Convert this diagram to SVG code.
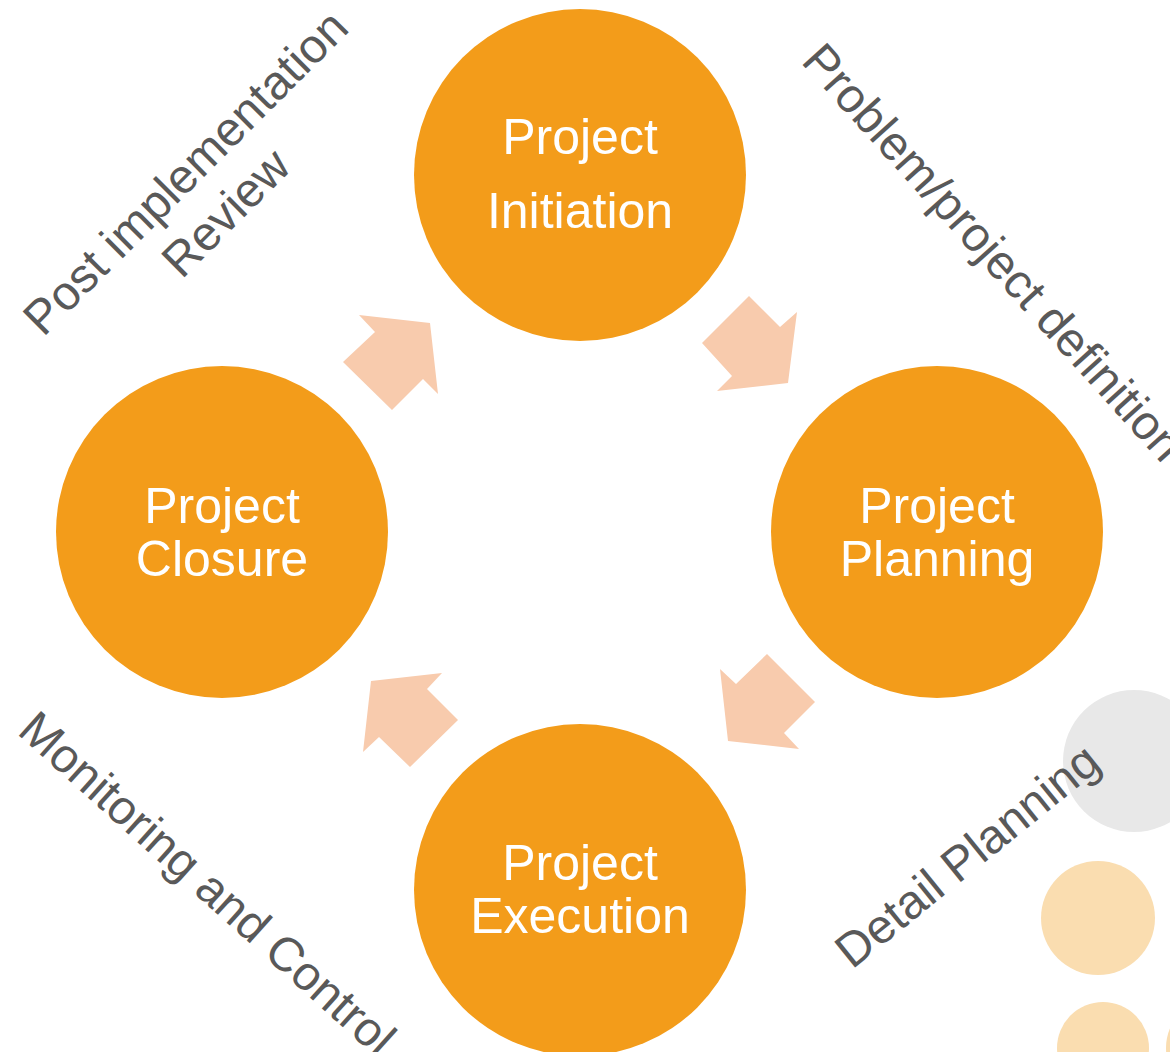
<svg xmlns="http://www.w3.org/2000/svg" width="1170" height="1052" viewBox="0 0 1170 1052">
<style>
.node{fill:#F39C1A}
.nt{font-family:"Liberation Sans",Arial,sans-serif;font-size:50px;fill:#FFFFFF;text-anchor:middle}
.lbl{font-family:"Liberation Sans",Arial,sans-serif;font-size:48px;fill:#595959}
.arr{fill:#F8CBAD}
</style>
<rect width="1170" height="1052" fill="#FFFFFF"/>
<g id="decor">
<circle cx="1134" cy="761" r="71" fill="#E8E8E8"/>
<circle cx="1098" cy="918" r="57" fill="#FADDB0"/>
<circle cx="1103" cy="1048" r="46" fill="#FADDB0"/>
<circle cx="1216" cy="1048" r="50" fill="#FADDB0"/>
</g>
<g id="connectors">
<polygon class="arr" points="749,296 780,327 797,312 788,383 717,391 732,376 702,343"/>
<polygon class="arr" points="767,654 815,702 784,733 799,749 728,741 720,669 736,684"/>
<polygon class="arr" points="371,681 442,673 427,689 458,720 410,767 379,737 363,752"/>
<polygon class="arr" points="359,315 430,323 438,394 423,379 392,410 343,362 375,332"/>
</g>
<g id="node-initiation">
<circle class="node" cx="580" cy="175" r="166"/>
<text class="nt" x="580" y="154">Project</text>
<text class="nt" x="580" y="228">Initiation</text>
</g>
<g id="node-planning">
<circle class="node" cx="937" cy="532" r="166"/>
<text class="nt" x="937" y="523">Project</text>
<text class="nt" x="937" y="576">Planning</text>
</g>
<g id="node-execution">
<circle class="node" cx="580" cy="890" r="166"/>
<text class="nt" x="580" y="880">Project</text>
<text class="nt" x="580" y="933">Execution</text>
</g>
<g id="node-closure">
<circle class="node" cx="222" cy="532" r="166"/>
<text class="nt" x="222" y="523">Project</text>
<text class="nt" x="222" y="576">Closure</text>
</g>
<g id="labels">
<text class="lbl" text-anchor="middle" transform="translate(197,184) rotate(-45)"><tspan x="0" y="0">Post implementation</tspan><tspan x="0" y="57">Review</tspan></text>
<text class="lbl" transform="translate(800,62) rotate(48)">Problem/project definition</text>
<text class="lbl" transform="translate(16,733) rotate(42)">Monitoring and Control</text>
<text class="lbl" transform="translate(852,970) rotate(-39)">Detail Planning</text>
</g>
</svg>
